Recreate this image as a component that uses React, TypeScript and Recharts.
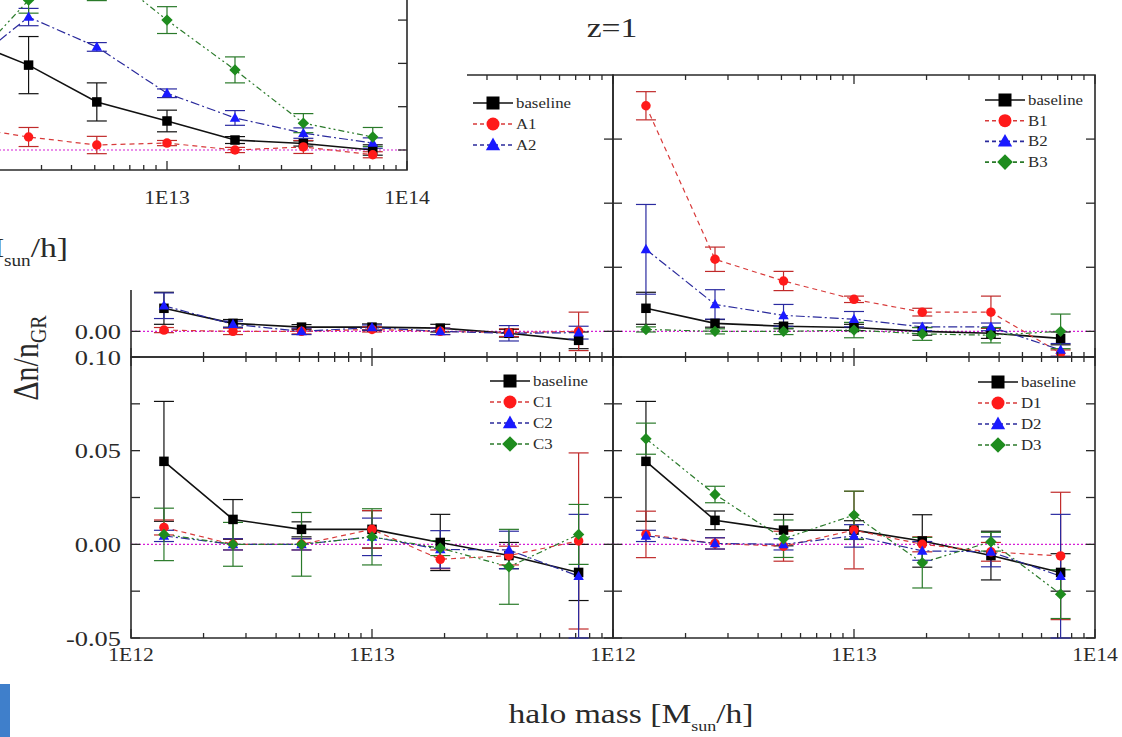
import React from 'react';
import { ComposedChart, Line, XAxis, YAxis, ErrorBar, ReferenceLine, ReferenceArea } from 'recharts';

const FONT = '"Liberation Serif", "Times New Roman", serif';
const INK = '#2a2a2a';

// halo mass bins (M_sun/h)
const MASS = [1.37e12, 2.65e12, 5.1e12, 1.0e13, 1.92e13, 3.7e13, 7.2e13];
const X_TICKS = [
  1e12, 2e12, 3e12, 4e12, 5e12, 6e12, 7e12, 8e12, 9e12,
  1e13, 2e13, 3e13, 4e13, 5e13, 6e13, 7e13, 8e13, 9e13, 1e14,
];
const TOP_Y_TICKS = [0, 0.1, 0.2, 0.3];
const BOT_Y_TICKS = [-0.05, -0.025, 0, 0.025, 0.05, 0.075, 0.1];
const BOT_Y_LABELS = [-0.05, 0, 0.05, 0.1];

// fragment of the earlier figure lying on top
const PREV_BASE = [0.26, 0.196, 0.111, 0.067, 0.023, 0.015, 0.0];
const PREV_BASE_ERR = [0.05, 0.066, 0.044, 0.025, 0.008, 0.006, 0.012];
const PREV_1 = [0.055, 0.03, 0.0115, 0.016, 0.0, 0.007, -0.011];
const PREV_1_ERR = [0.02, 0.022, 0.02, 0.006, 0.006, 0.015, 0.007];
const PREV_2 = [0.18, 0.307, 0.238, 0.131, 0.074, 0.039, 0.016];
const PREV_2_ERR = [0.02, 0.02, 0.01, 0.01, 0.017, 0.012, 0.012];
const PREV_3 = [0.175, 0.346, 0.43, 0.3, 0.185, 0.062, 0.03];
const PREV_3_ERR = [0.03, 0.03, 0.085, 0.031, 0.03, 0.022, 0.022];

// z=1 panels
const A_BASE = [0.036, 0.0125, 0.0066, 0.0066, 0.005, -0.003, -0.014];
const A_BASE_ERR = [0.025, 0.006, 0.004, 0.005, 0.006, 0.006, 0.013];
const A_1 = [0.002, 0.0, 0.0, 0.003, 0.0, -0.002, 0.0];
const A_1_ERR = [0.004, 0.005, 0.004, 0.004, 0.005, 0.006, 0.03];
const A_2 = [0.04, 0.011, 0.0, 0.006, 0.0, -0.003, -0.002];
const A_2_ERR = [0.02, 0.005, 0.005, 0.004, 0.005, 0.012, 0.01];

const B_BASE = [0.036, 0.0125, 0.008, 0.006, 0.0, -0.003, -0.011];
const B_BASE_ERR = [0.025, 0.006, 0.004, 0.005, 0.006, 0.008, 0.01];
const B_1 = [0.352, 0.1125, 0.0786, 0.05, 0.03, 0.03, -0.034];
const B_1_ERR = [0.022, 0.019, 0.015, 0.005, 0.006, 0.025, 0.005];
const B_2 = [0.128, 0.042, 0.025, 0.019, 0.007, 0.007, -0.029];
const B_2_ERR = [0.07, 0.023, 0.017, 0.012, 0.006, 0.006, 0.01];
const B_3 = [0.003, 0.0, 0.0, 0.002, -0.004, -0.006, 0.0];
const B_3_ERR = [0.004, 0.004, 0.005, 0.012, 0.01, 0.012, 0.027];

const C_BASE = [0.0443, 0.0133, 0.008, 0.008, 0.001, -0.006, -0.015];
const C_BASE_ERR = [0.032, 0.0106, 0.004, 0.01, 0.015, 0.007, 0.015];
const C_1 = [0.009, 0.0, 0.0, 0.008, -0.008, -0.006, 0.0018];
const C_1_ERR = [0.004, 0.003, 0.003, 0.01, 0.005, 0.005, 0.047];
const C_2 = [0.0045, 0.0, 0.0, 0.004, -0.0027, -0.003, -0.017];
const C_2_ERR = [0.003, 0.003, 0.003, 0.01, 0.01, 0.01, 0.033];
const C_3 = [0.0053, 0.0, 0.0, 0.004, -0.002, -0.012, 0.0053];
const C_3_ERR = [0.014, 0.0117, 0.017, 0.015, 0.004, 0.02, 0.016];

const D_BASE = [0.0443, 0.0128, 0.0076, 0.0076, 0.0018, -0.006, -0.015];
const D_BASE_ERR = [0.032, 0.005, 0.0084, 0.005, 0.014, 0.013, 0.01];
const D_1 = [0.0053, 0.0005, -0.001, 0.0076, 0.0, -0.004, -0.0062];
const D_1_ERR = [0.0124, 0.003, 0.008, 0.0207, 0.004, 0.005, 0.034];
const D_2 = [0.0045, 0.0005, 0.0, 0.0045, -0.0035, -0.004, -0.017];
const D_2_ERR = [0.003, 0.003, 0.003, 0.006, 0.005, 0.008, 0.033];
const D_3 = [0.0564, 0.0266, 0.003, 0.0156, -0.0098, 0.0014, -0.0266];
const D_3_ERR = [0.0083, 0.0044, 0.01, 0.0128, 0.0135, 0.005, 0.013];

const STYLES: Record<string, any> = {
  base: { kind: 'square', fill: '#000', line: '#111', dash: undefined, width: 1.6, err: '#111' },
  s1: { kind: 'circle', fill: '#ff1a1a', line: '#d83a3a', dash: '5 4', width: 1.2, err: '#c02a2a' },
  s2: { kind: 'triangle', fill: '#1a1aff', line: '#2a2a9c', dash: '9 3 2 3', width: 1.2, err: '#2a2aa0' },
  s3: { kind: 'diamond', fill: '#1e8c1e', line: '#2a7a2a', dash: '6 3 2 3 2 3', width: 1.2, err: '#2a7a2a' },
};

const pts = (vals: number[], errs: number[]) => MASS.map((x, i) => ({ x, y: vals[i], e: errs[i] }));

function Marker({ kind, cx, cy, s, fill }: any) {
  const h = s / 2;
  if (kind === 'square') return <rect x={cx - h} y={cy - h} width={s} height={s} fill={fill} />;
  if (kind === 'circle') return <circle cx={cx} cy={cy} r={h} fill={fill} />;
  if (kind === 'triangle')
    return <polygon points={`${cx},${cy - h * 1.15} ${cx + h * 1.1},${cy + h * 0.8} ${cx - h * 1.1},${cy + h * 0.8}`} fill={fill} />;
  return <polygon points={`${cx},${cy - h * 1.2} ${cx + h * 1.2},${cy} ${cx},${cy + h * 1.2} ${cx - h * 1.2},${cy}`} fill={fill} />;
}

// the source picture is stretched sideways, so text is too
function SText({ x, y, size, anchor = 'middle', children }: any) {
  return (
    <g transform={`translate(${x},${y}) scale(1.2,1)`}>
      <text x={0} y={0} dy="0.35em" textAnchor={anchor} fontSize={size} fontFamily={FONT} fill={INK}>
        {children}
      </text>
    </g>
  );
}

const isDecade = (v: number) => Math.abs(Math.log10(v) - Math.round(Math.log10(v))) < 1e-6;

function Panel({ frame, yDomain, yTicks, yLabels, xLabels, xLabelDy, series }: any) {
  const { cl, ct, cw, ch, left, right, top, bottom } = frame;

  const xTick = (p: any) => {
    const v = p.payload.value;
    const major = isDecade(v);
    const len = major ? 9 : 5;
    const exp = Math.round(Math.log10(v));
    return (
      <g>
        <line x1={p.x} y1={bottom} x2={p.x} y2={bottom - len} stroke={INK} strokeWidth={1.3} />
        <line x1={p.x} y1={top} x2={p.x} y2={top + len} stroke={INK} strokeWidth={1.3} />
        {major && xLabels.includes(exp) && (
          <SText x={p.x} y={bottom + xLabelDy} size={18}>{`1E${exp}`}</SText>
        )}
      </g>
    );
  };

  const yTick = (p: any) => {
    const v = p.payload.value;
    const show = yLabels.some((l: number) => Math.abs(l - v) < 1e-9);
    return (
      <g>
        <line x1={left} y1={p.y} x2={left + 9} y2={p.y} stroke={INK} strokeWidth={1.3} />
        <line x1={right} y1={p.y} x2={right - 9} y2={p.y} stroke={INK} strokeWidth={1.3} />
        {show && (
          <SText x={left - 10} y={p.y} size={22} anchor="end">
            {v.toFixed(2)}
          </SText>
        )}
      </g>
    );
  };

  return (
    <div style={{ position: 'absolute', left: cl, top: ct }}>
      <ComposedChart
        width={cw}
        height={ch}
        margin={{ top, left: left - 1, right: cw - right, bottom: ch - bottom - 1 }}
      >
        <XAxis
          type="number"
          dataKey="x"
          scale="log"
          domain={[1e12, 1e14]}
          allowDataOverflow
          ticks={X_TICKS}
          interval={0}
          height={1}
          tickSize={0}
          tickMargin={0}
          axisLine={false}
          tickLine={false}
          tick={xTick}
        />
        <YAxis
          type="number"
          domain={yDomain}
          allowDataOverflow
          ticks={yTicks}
          interval={0}
          width={1}
          tickSize={0}
          tickMargin={0}
          axisLine={false}
          tickLine={false}
          tick={yTick}
        />
        <ReferenceLine y={0} stroke="#d51fd5" strokeWidth={1.2} strokeDasharray="2 2" />
        {series.map((s: any) => {
          const st = STYLES[s.style];
          return (
            <Line
              key={s.name}
              data={s.data}
              dataKey="y"
              type="linear"
              stroke={st.line}
              strokeWidth={st.width}
              strokeDasharray={st.dash}
              activeDot={false}
              legendType="none"
              isAnimationActive={false}
              dot={(d: any) => (
                <Marker key={`${s.name}-${d.index}`} kind={st.kind} cx={d.cx} cy={d.cy} s={9.5} fill={st.fill} />
              )}
            >
              <ErrorBar dataKey="e" direction="y" width={10} stroke={st.err} strokeWidth={1.2} />
            </Line>
          );
        })}
        <ReferenceArea
          x1={1e12}
          x2={1e14}
          y1={yDomain[0]}
          y2={yDomain[1]}
          fill="none"
          stroke={INK}
          strokeWidth={1.6}
          ifOverflow="visible"
        />
      </ComposedChart>
    </div>
  );
}

function LegendBox({ x, y, step, items }: any) {
  return (
    <g>
      {items.map((it: any, i: number) => {
        const st = STYLES[it.style];
        const yy = y + i * step;
        return (
          <g key={it.label}>
            <line x1={x - 20} y1={yy} x2={x + 20} y2={yy} stroke={st.line} strokeWidth={1.6} strokeDasharray={st.dash ? '4 3' : undefined} />
            <Marker kind={st.kind} cx={x} cy={yy} s={13} fill={st.fill} />
            <SText x={x + 23} y={yy} size={14} anchor="start">{it.label}</SText>
          </g>
        );
      })}
    </g>
  );
}

const PAGE = { cl: 0, ct: 0, cw: 1122, ch: 737 };

export default function App() {
  const panelA = [
    { name: 'baseline', style: 'base', data: pts(A_BASE, A_BASE_ERR) },
    { name: 'A1', style: 's1', data: pts(A_1, A_1_ERR) },
    { name: 'A2', style: 's2', data: pts(A_2, A_2_ERR) },
  ];
  const panelB = [
    { name: 'baseline', style: 'base', data: pts(B_BASE, B_BASE_ERR) },
    { name: 'B1', style: 's1', data: pts(B_1, B_1_ERR) },
    { name: 'B2', style: 's2', data: pts(B_2, B_2_ERR) },
    { name: 'B3', style: 's3', data: pts(B_3, B_3_ERR) },
  ];
  const panelC = [
    { name: 'baseline', style: 'base', data: pts(C_BASE, C_BASE_ERR) },
    { name: 'C1', style: 's1', data: pts(C_1, C_1_ERR) },
    { name: 'C2', style: 's2', data: pts(C_2, C_2_ERR) },
    { name: 'C3', style: 's3', data: pts(C_3, C_3_ERR) },
  ];
  const panelD = [
    { name: 'baseline', style: 'base', data: pts(D_BASE, D_BASE_ERR) },
    { name: 'D1', style: 's1', data: pts(D_1, D_1_ERR) },
    { name: 'D2', style: 's2', data: pts(D_2, D_2_ERR) },
    { name: 'D3', style: 's3', data: pts(D_3, D_3_ERR) },
  ];
  const prev = [
    { name: 'baseline', style: 'base', data: pts(PREV_BASE, PREV_BASE_ERR) },
    { name: 'p1', style: 's1', data: pts(PREV_1, PREV_1_ERR) },
    { name: 'p2', style: 's2', data: pts(PREV_2, PREV_2_ERR) },
    { name: 'p3', style: 's3', data: pts(PREV_3, PREV_3_ERR) },
  ];

  return (
    <div style={{ position: 'absolute', left: 0, top: 0, width: 1122, height: 737, background: '#fff', overflow: 'hidden' }}>
      <Panel
        frame={{ ...PAGE, left: 131, right: 613, top: 75, bottom: 357 }}
        yDomain={[-0.04, 0.4]}
        yTicks={TOP_Y_TICKS}
        yLabels={TOP_Y_TICKS}
        xLabels={[]}
        xLabelDy={20}
        series={panelA}
      />
      <Panel
        frame={{ ...PAGE, left: 613, right: 1095, top: 75, bottom: 357 }}
        yDomain={[-0.04, 0.4]}
        yTicks={TOP_Y_TICKS}
        yLabels={[]}
        xLabels={[]}
        xLabelDy={20}
        series={panelB}
      />
      <Panel
        frame={{ ...PAGE, left: 131, right: 613, top: 357, bottom: 638 }}
        yDomain={[-0.05, 0.1]}
        yTicks={BOT_Y_TICKS}
        yLabels={BOT_Y_LABELS}
        xLabels={[12, 13]}
        xLabelDy={17}
        series={panelC}
      />
      <Panel
        frame={{ ...PAGE, left: 613, right: 1095, top: 357, bottom: 638 }}
        yDomain={[-0.05, 0.1]}
        yTicks={BOT_Y_TICKS}
        yLabels={[]}
        xLabels={[12, 13, 14]}
        xLabelDy={17}
        series={panelD}
      />

      <svg width={1122} height={737} style={{ position: 'absolute', left: 0, top: 0 }}>
        <SText x={612} y={27} size={28}>z=1</SText>
        <g transform="translate(631,713) scale(1.2,1)">
          <text textAnchor="middle" dy="0.35em" fontSize={28} fontFamily={FONT} fill={INK}>
            halo mass [M<tspan fontSize={15} dy={8}>sun</tspan><tspan dy={-8}>/h]</tspan>
          </text>
        </g>
        <g transform="translate(38,358) scale(1.2,1) rotate(-90)">
          <text textAnchor="middle" fontSize={30} fontFamily={FONT} fill={INK}>
            Δn/n<tspan fontSize={20} dy={7}>GR</tspan>
          </text>
        </g>
        <LegendBox x={493} y={103} step={21} items={[{ label: 'baseline', style: 'base' }, { label: 'A1', style: 's1' }, { label: 'A2', style: 's2' }]} />
        <LegendBox x={1005} y={100} step={20.7} items={[{ label: 'baseline', style: 'base' }, { label: 'B1', style: 's1' }, { label: 'B2', style: 's2' }, { label: 'B3', style: 's3' }]} />
        <LegendBox x={510} y={381} step={21} items={[{ label: 'baseline', style: 'base' }, { label: 'C1', style: 's1' }, { label: 'C2', style: 's2' }, { label: 'C3', style: 's3' }]} />
        <LegendBox x={998} y={382} step={21} items={[{ label: 'baseline', style: 'base' }, { label: 'D1', style: 's1' }, { label: 'D2', style: 's2' }, { label: 'D3', style: 's3' }]} />
      </svg>

      {/* piece of another figure pasted over the top-left corner */}
      <div style={{ position: 'absolute', left: 0, top: 0, width: 467, height: 290, background: '#fff', overflow: 'hidden' }}>
        <Panel
          frame={{ cl: -100, ct: -60, cw: 565, ch: 350, left: 27, right: 507, top: 16, bottom: 230 }}
          yDomain={[-0.0462, 0.448]}
          yTicks={TOP_Y_TICKS}
          yLabels={[]}
          xLabels={[13, 14]}
          xLabelDy={28}
          series={prev}
        />
        <svg width={467} height={290} style={{ position: 'absolute', left: 0, top: 0 }}>
          <g transform="translate(68,257) scale(1.2,1)">
            <text textAnchor="end" fontSize={28} fontFamily={FONT} fill={INK}>
              halo mass [M<tspan fontSize={16} dy={9}>sun</tspan><tspan dy={-9}>/h]</tspan>
            </text>
          </g>
        </svg>
      </div>

      <div style={{ position: 'absolute', left: 0, top: 684, width: 10, height: 53, background: '#3f7fcb' }} />
    </div>
  );
}
